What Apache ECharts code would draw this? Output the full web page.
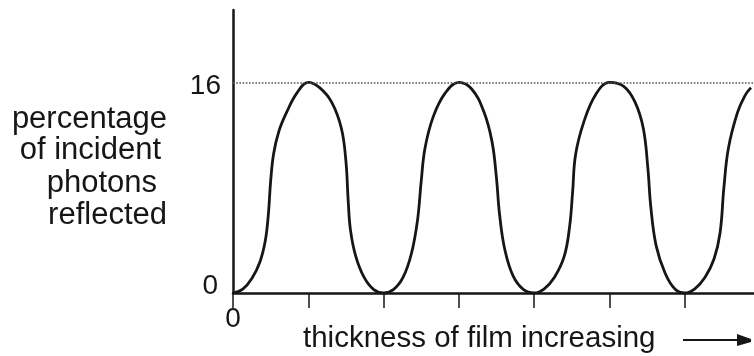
<!DOCTYPE html>
<html>
<head>
<meta charset="utf-8">
<script src="https://cdn.jsdelivr.net/npm/echarts@6/dist/echarts.min.js"></script>
<style>
html,body{margin:0;padding:0;background:#fff;}
#c{width:754px;height:356px;}
</style>
</head>
<body>
<div id="c"></div>
<script>
// thickness of film (tick units) and percentage of incident photons reflected
const thickness = [0,0.13,0.25,0.36,0.43,0.47,0.50,0.54,0.61,0.71,0.85,1.0,1.15,1.31,1.44,1.50,1.53,1.56,1.63,1.74,1.87,2.0,
  2.13,2.26,2.37,2.45,2.50,2.55,2.66,2.82,3.0,3.17,3.33,3.44,3.50,3.54,3.61,3.72,3.86,4.0,
  4.13,4.27,4.40,4.47,4.51,4.55,4.66,4.82,5.0,5.19,5.34,5.45,5.51,5.55,5.62,5.74,5.87,6.0,
  6.13,6.27,6.39,6.47,6.52,6.58,6.70,6.80,6.88];
const reflected = [0,0.3,1.1,2.4,4.0,6.0,8.5,10.6,12.3,13.7,15.2,16.0,15.6,14.5,12.5,10.0,7.0,4.8,2.8,1.2,0.25,0,
  0.25,1.2,3.0,5.5,8.5,11.0,13.4,15.2,16.0,15.5,13.8,11.5,8.7,6.0,3.3,1.3,0.25,0,
  0.3,1.2,2.8,5.0,7.6,10.5,13.0,15.1,16.0,15.7,14.5,12.5,9.5,6.5,3.6,1.5,0.3,0,
  0.3,1.2,2.6,4.6,8.0,11.0,13.7,15.0,15.6];
const yTickLabels = ['0','16'];
const maxLevel = 16;
const yLabelLines = ['percentage','of incident','photons','reflected'];
const xCaption = 'thickness of film increasing';

const points = thickness.map((t,i)=>[t,reflected[i]]);
const ink = '#161616';
const font = 'Liberation Sans, Arial, Helvetica, sans-serif';

const chart = echarts.init(document.getElementById('c'));
chart.setOption({
  backgroundColor:'#fff',
  animation:false,
  grid:{left:233,right:0,top:10,bottom:63,containLabel:false},
  xAxis:{
    type:'value',min:0,max:6.92,interval:1,
    axisLine:{show:true,lineStyle:{color:ink,width:2.5}},
    axisTick:{show:true,length:15,lineStyle:{color:ink,width:1.5}},
    splitLine:{show:false},
    axisLabel:{margin:12,fontSize:28,color:ink,fontFamily:font,
      formatter:v=>v===0?yTickLabels[0]:'',showMaxLabel:false}
  },
  yAxis:{
    type:'value',min:0,max:21.5,interval:maxLevel,
    axisLine:{show:true,lineStyle:{color:ink,width:2.5}},
    axisTick:{show:false},
    splitLine:{show:false},
    axisLabel:{margin:12,color:ink,fontFamily:font,showMaxLabel:false,
      formatter:v=>v===0?'{z|'+yTickLabels[0]+'}':(v===maxLevel?'{s|'+yTickLabels[1]+'}':''),
      rich:{
        z:{fontSize:28,fontFamily:font,color:ink,padding:[0,3,14,0]},
        s:{fontSize:28,fontFamily:font,color:ink,padding:[8,0,0,0]}
      }}
  },
  series:[{
    type:'line',data:points,smooth:0.4,symbol:'none',
    lineStyle:{color:ink,width:2.8},
    markLine:{silent:true,symbol:'none',label:{show:false},
      lineStyle:{type:'dotted',color:'#555',width:1.6},
      data:[{yAxis:maxLevel}]}
  }],
  graphic:[
    {type:'text',style:{text:yLabelLines[0],x:167,y:135,textAlign:'right',textVerticalAlign:'bottom',font:'31px '+font,fill:ink}},
    {type:'text',style:{text:yLabelLines[1],x:161,y:166,textAlign:'right',textVerticalAlign:'bottom',font:'31px '+font,fill:ink}},
    {type:'text',style:{text:yLabelLines[2],x:157,y:199,textAlign:'right',textVerticalAlign:'bottom',font:'31px '+font,fill:ink}},
    {type:'text',style:{text:yLabelLines[3],x:167,y:231,textAlign:'right',textVerticalAlign:'bottom',font:'31px '+font,fill:ink}},
    {type:'text',style:{text:xCaption,x:303,y:354,textAlign:'left',textVerticalAlign:'bottom',font:'29.5px '+font,fill:ink}},
    {type:'line',shape:{x1:683,y1:340,x2:742,y2:340},style:{stroke:ink,lineWidth:2}},
    {type:'polygon',shape:{points:[[737,334],[751,339],[751,342],[737,346]]},style:{fill:ink}}
  ]
});
</script>
</body>
</html>
